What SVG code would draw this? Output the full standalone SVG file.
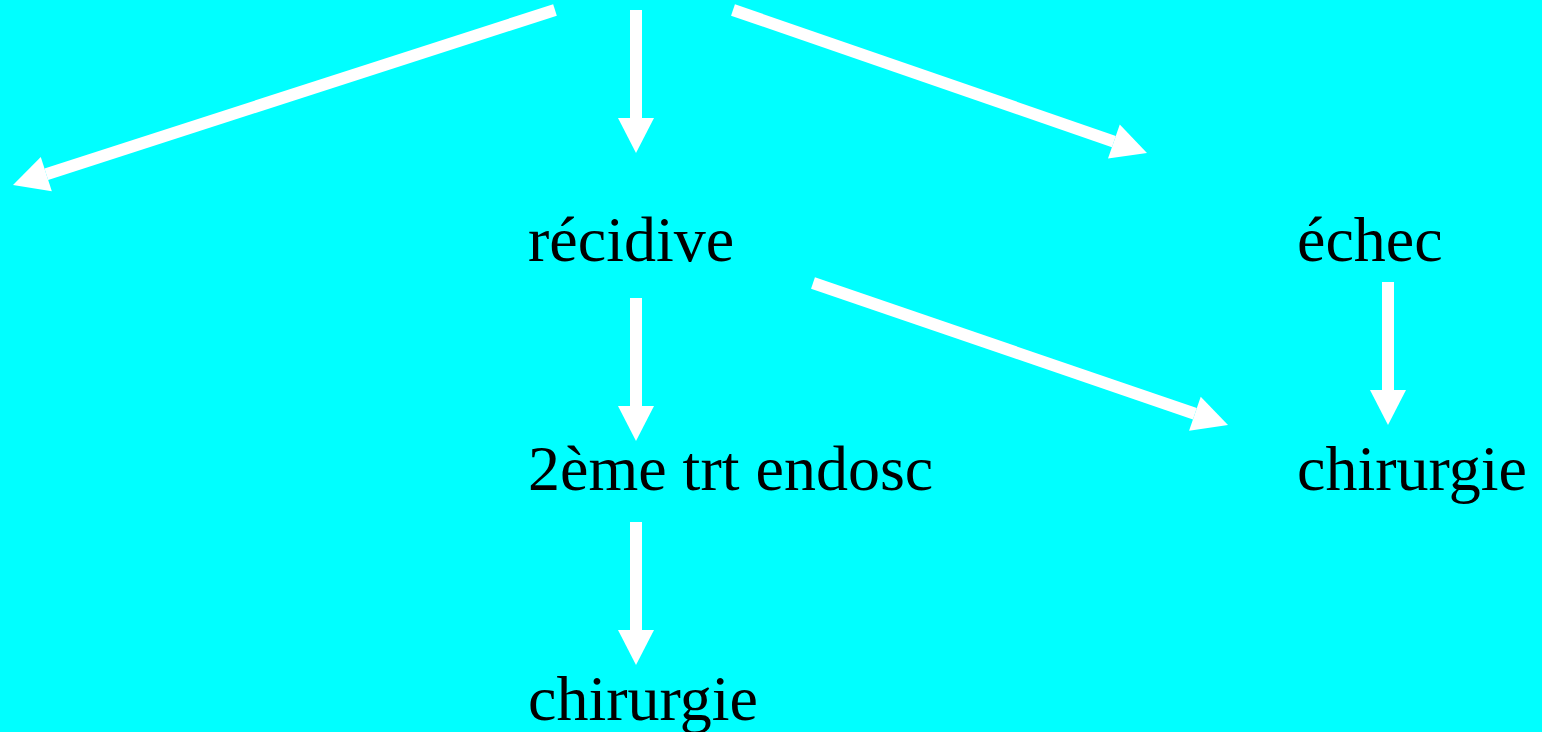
<svg xmlns="http://www.w3.org/2000/svg" width="1542" height="732" viewBox="0 0 1542 732">
<style>
.lbl{font-family:"Liberation Serif","Times New Roman",serif;font-size:64px;fill:#000}
.edge{stroke:#fff;stroke-width:12;fill:none;stroke-linecap:butt;marker-end:url(#ah)}
</style>
<defs>
<marker id="ah" markerUnits="userSpaceOnUse" markerWidth="36" markerHeight="36" refX="0" refY="18" orient="auto" overflow="visible">
<path d="M0,0 L35,18 L0,36 Z" fill="#fff"/>
</marker>
</defs>
<rect width="1542" height="732" fill="#00ffff"/>
<g id="connectors">
<path class="edge" d="M555,10 L46.3,174.2"/>
<path class="edge" d="M636,10 L636,118"/>
<path class="edge" d="M733,10 L1113.9,141.6"/>
<path class="edge" d="M636,298 L636,406"/>
<path class="edge" d="M813,283 L1194.9,413.7"/>
<path class="edge" d="M636,522 L636,630"/>
<path class="edge" d="M1388,282 L1388,390"/>
</g>
<g id="recidive"><text class="lbl" x="528" y="261">récidive</text></g>
<g id="echec"><text class="lbl" x="1297" y="261">échec</text></g>
<g id="trt2"><text class="lbl" x="528" y="490">2ème trt endosc</text></g>
<g id="chirurgie1"><text class="lbl" x="528" y="720">chirurgie</text></g>
<g id="chirurgie2"><text class="lbl" x="1297" y="490">chirurgie</text></g>
</svg>
